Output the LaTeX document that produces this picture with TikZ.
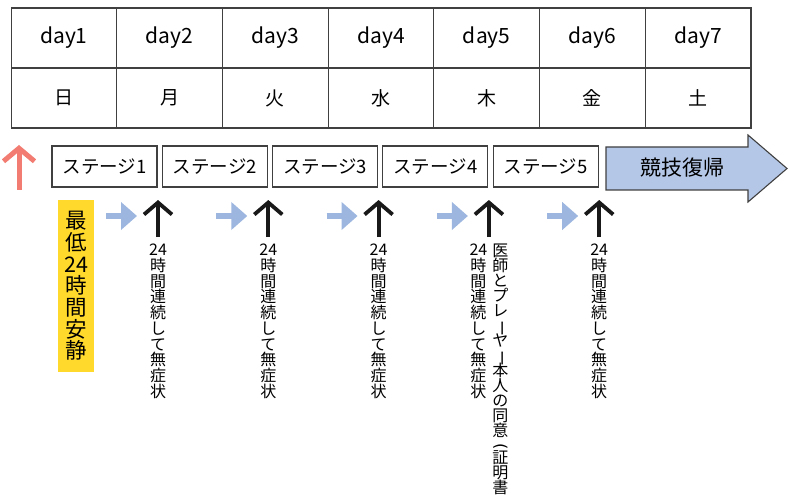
\documentclass[tikz,border=0pt]{standalone}
\usepackage{fontspec}
\setmainfont{Noto Sans CJK JP}
\newfontfamily\parenfont{DejaVu Sans}
\usepackage{graphicx}
\usepackage{tikz}
\usetikzlibrary{arrows.meta}
\usetikzlibrary{calc}

\definecolor{linegray}{HTML}{404040}
\definecolor{stageblue}{HTML}{B4C7E7}
\definecolor{hintblue}{HTML}{9DB6DF}
\definecolor{restyellow}{HTML}{FFD92B}
\definecolor{backred}{HTML}{F27C72}

\newcommand{\tatebar}{\rotatebox[origin=c]{-90}{ー}}
\newcommand{\tateparen}{\rotatebox[origin=c]{-90}{\parenfont (}}
\newcommand{\tightlines}{\lineskiplimit=-20pt\relax}

\begin{document}
\begin{tikzpicture}[x=1pt, y=-1pt,
	cell/.style={draw=linegray, line width=1.1pt, minimum width=105.7pt, minimum height=60pt, inner sep=0pt},
	stagebox/.style={draw=linegray, line width=1.1pt, minimum width=105pt, minimum height=41pt, inner sep=0pt, font=\fontsize{18.5}{19}\selectfont},
	hint/.style={hintblue, line width=6pt, -{Triangle[length=16pt,width=27pt]}},
	okarrow/.style={black!90, line width=3.8pt, -{Straight Barb[length=12pt,width=28pt]}},
	cond/.style={anchor=north, align=center, inner sep=0pt, font=\fontsize{16}{15.7}\selectfont\tightlines}
]

%\newcommand{\colw}{105.7}
\newcommand{\stepw}{110.3}

	\useasboundingbox (0,0) rectangle (789,497);

	% day row and weekday row
	\node[cell, font=\fontsize{21}{21}\selectfont] (day1) at (63.9,38) {day1};
	\node[cell, font=\fontsize{21}{21}\selectfont] (day2) at (169.6,38) {day2};
	\node[cell, font=\fontsize{21}{21}\selectfont] (day3) at (275.3,38) {day3};
	\node[cell, font=\fontsize{21}{21}\selectfont] (day4) at (381.0,38) {day4};
	\node[cell, font=\fontsize{21}{21}\selectfont] (day5) at (486.7,38) {day5};
	\node[cell, font=\fontsize{21}{21}\selectfont] (day6) at (592.4,38) {day6};
	\node[cell, font=\fontsize{21}{21}\selectfont] (day7) at (698.1,38) {day7};

	\node[cell, font=\fontsize{19}{19}\selectfont] (sun) at (63.9,98) {日};
	\node[cell, font=\fontsize{19}{19}\selectfont] (mon) at (169.6,98) {月};
	\node[cell, font=\fontsize{19}{19}\selectfont] (tue) at (275.3,98) {火};
	\node[cell, font=\fontsize{19}{19}\selectfont] (wed) at (381.0,98) {水};
	\node[cell, font=\fontsize{19}{19}\selectfont] (thu) at (486.7,98) {木};
	\node[cell, font=\fontsize{19}{19}\selectfont] (fri) at (592.4,98) {金};
	\node[cell, font=\fontsize{19}{19}\selectfont] (sat) at (698.1,98) {土};

	% stages
	\node[stagebox] (stage1) at (104.5,166.5) {ステージ1};
	\node[stagebox] (stage2) at ($(stage1)+(\stepw,0)$) {ステージ2};
	\node[stagebox] (stage3) at ($(stage2)+(\stepw,0)$) {ステージ3};
	\node[stagebox] (stage4) at ($(stage3)+(\stepw,0)$) {ステージ4};
	\node[stagebox] (stage5) at ($(stage4)+(\stepw,0)$) {ステージ5};

	\draw[draw=linegray, line width=1.1pt, fill=stageblue] (606,147) -- (748,147) -- (748,135) -- (787,168.5) -- (748,202) -- (748,190) -- (606,190) -- cycle;
	\node[font=\fontsize{21}{21}\selectfont] (return) at (682,168) {競技復帰};

	% back one stage
	\coordinate (backfrom) at (19,190);
	\coordinate (backto) at (19,145);
	\draw[backred, line width=5pt, -{Straight Barb[length=13pt,width=31pt]}] (backfrom) -- (backto);

	\node[fill=restyellow, minimum width=36pt, minimum height=172pt, inner sep=0pt, align=center,
		font=\fontsize{21.5}{21.7}\selectfont\tightlines] (rest) at (76,286) {最\\低\\24\\時\\間\\安\\静};

	% next stage after 24h
	\coordinate (h1) at (106,216);
	\coordinate (h2) at ($(h1)+(\stepw,0)$);
	\coordinate (h3) at ($(h2)+(\stepw,0)$);
	\coordinate (h4) at ($(h3)+(\stepw,0)$);
	\coordinate (h5) at ($(h4)+(\stepw,0)$);
	\draw[hint] (h1) -- ++(31,0);
	\draw[hint] (h2) -- ++(31,0);
	\draw[hint] (h3) -- ++(31,0);
	\draw[hint] (h4) -- ++(31,0);
	\draw[hint] (h5) -- ++(31,0);

	\coordinate (ok1) at (158,237);
	\coordinate (ok2) at ($(ok1)+(\stepw,0)$);
	\coordinate (ok3) at ($(ok2)+(\stepw,0)$);
	\coordinate (ok4) at ($(ok3)+(\stepw,0)$);
	\coordinate (ok5) at ($(ok4)+(\stepw,0)$);
	\draw[okarrow] (ok1) -- ++(0,-37);
	\draw[okarrow] (ok2) -- ++(0,-37);
	\draw[okarrow] (ok3) -- ++(0,-37);
	\draw[okarrow] (ok4) -- ++(0,-37);
	\draw[okarrow] (ok5) -- ++(0,-37);

	\node[cond] (cond1) at ($(ok1)+(0,7)$) {24\\時\\間\\連\\続\\し\\て\\無\\症\\状};
	\node[cond] (cond2) at ($(ok2)+(0,7)$) {24\\時\\間\\連\\続\\し\\て\\無\\症\\状};
	\node[cond] (cond3) at ($(ok3)+(0,7)$) {24\\時\\間\\連\\続\\し\\て\\無\\症\\状};
	\node[cond] (cond4) at ($(ok4)+(-10.5,7)$) {24\\時\\間\\連\\続\\し\\て\\無\\症\\状};
	\node[cond, font=\fontsize{16}{15}\selectfont\tightlines] (agree4) at ($(ok4)+(11.5,7)$)
		{医\\師\\と\\プ\\レ\\\tatebar\\ヤ\\\tatebar\\本\\人\\の\\同\\意\\\tateparen\\[-3pt]証\\明\\書};
	\node[cond] (cond5) at ($(ok5)+(0,7)$) {24\\時\\間\\連\\続\\し\\て\\無\\症\\状};
  \end{tikzpicture}
\end{document}
